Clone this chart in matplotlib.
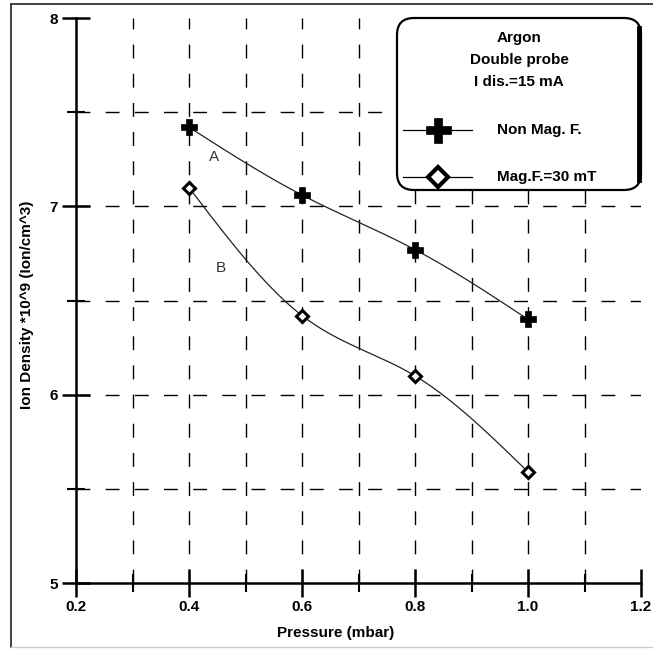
import numpy as np
import matplotlib
matplotlib.use("Agg")
import matplotlib.pyplot as plt
from matplotlib.patches import FancyBboxPatch
from matplotlib.lines import Line2D

plt.rcParams['font.family'] = ['Liberation Sans', 'DejaVu Sans']

# data
pressure = [0.4, 0.6, 0.8, 1.0]
density_nomag = [7.42, 7.06, 6.77, 6.40]    # curve A, Non Mag. F.
density_mag = [7.10, 6.42, 6.10, 5.59]      # curve B, Mag.F.=30 mT
legend_title = ["Argon", "Double probe", "I dis.=15 mA"]
series_names = ["Non Mag. F.", "Mag.F.=30 mT"]


def natural_spline(x, y, n=200):
    # natural cubic spline through the measured points (smooth connector)
    x = np.asarray(x, float)
    y = np.asarray(y, float)
    k = len(x)
    h = np.diff(x)
    A = np.zeros((k, k))
    b = np.zeros(k)
    A[0, 0] = A[-1, -1] = 1
    for i in range(1, k - 1):
        A[i, i - 1] = h[i - 1]
        A[i, i] = 2 * (h[i - 1] + h[i])
        A[i, i + 1] = h[i]
        b[i] = 6 * ((y[i + 1] - y[i]) / h[i] - (y[i] - y[i - 1]) / h[i - 1])
    m = np.linalg.solve(A, b)
    xs = np.linspace(x[0], x[-1], n)
    ys = np.empty_like(xs)
    for j, t in enumerate(xs):
        i = min(np.searchsorted(x, t, side='right') - 1, k - 2)
        a, bb = x[i], x[i + 1]
        hi = bb - a
        ys[j] = (m[i] * (bb - t) ** 3 / (6 * hi) + m[i + 1] * (t - a) ** 3 / (6 * hi)
                 + (y[i] / hi - m[i] * hi / 6) * (bb - t)
                 + (y[i + 1] / hi - m[i + 1] * hi / 6) * (t - a))
    return xs, ys


fig = plt.figure(figsize=(6.53, 6.50), dpi=100)
ax = fig.add_axes([76 / 653, 67 / 650, 565 / 653, 565 / 650])

# outer frame of the original picture
fig.add_artist(Line2D([11 / 653, 11 / 653], [3 / 650, 646 / 650], transform=fig.transFigure,
                      color='#333333', lw=1.3))
fig.add_artist(Line2D([11 / 653, 1.0], [646 / 650, 646 / 650], transform=fig.transFigure,
                      color='#333333', lw=1.3))
fig.add_artist(Line2D([11 / 653, 1.0], [3 / 650, 3 / 650], transform=fig.transFigure,
                      color='#cccccc', lw=1.0))

# dashed grid
for gx in np.arange(0.3, 1.15, 0.1):
    ax.axvline(gx, color='black', lw=1.0, ls=(0, (10, 11)), zorder=1)
for gy in np.arange(5.5, 7.75, 0.5):
    ax.axhline(gy, color='black', lw=1.0, ls=(0, (10, 11)), zorder=1)

xa, ya = natural_spline(pressure, density_nomag)
xb, yb = natural_spline(pressure, density_mag)
ax.plot(xa, ya, color='#222222', lw=0.9, zorder=3)
ax.plot(xb, yb, color='#222222', lw=0.9, zorder=3)
ax.plot(pressure, density_nomag, ls='none', marker='P', ms=11, color='black', mec='black',
        mew=0.5, zorder=4)
ax.plot(pressure, density_mag, ls='none', marker='D', ms=6.5, mfc='white', mec='black',
        mew=2.2, zorder=4)

ax.text(0.444, 7.26, "A", fontsize=11, color='#333333', ha='center', va='center', zorder=5)
ax.text(0.457, 6.67, "B", fontsize=11, color='#333333', ha='center', va='center', zorder=5)

ax.set_xlim(0.2, 1.2)
ax.set_ylim(5, 8)
ax.set_xticks([0.2, 0.4, 0.6, 0.8, 1.0, 1.2])
ax.set_xticklabels(["0.2", "0.4", "0.6", "0.8", "1.0", "1.2"])
ax.set_xticks(np.arange(0.3, 1.15, 0.2), minor=True)
ax.set_yticks([5, 6, 7, 8])
ax.set_yticks([5.5, 6.5, 7.5], minor=True)
for s in ['top', 'right']:
    ax.spines[s].set_visible(False)
for s in ['left', 'bottom']:
    ax.spines[s].set_linewidth(1.8)
ax.tick_params(which='major', direction='inout', length=20, width=1.8, labelsize=11, pad=2)
ax.tick_params(which='minor', direction='inout', length=13, width=1.5)
ax.tick_params(axis='y', which='major', pad=3)
for lab in ax.get_xticklabels() + ax.get_yticklabels():
    lab.set_fontweight('bold')

fig.text(336 / 653, 1 - 633 / 650, "Pressure (mbar)", ha='center', va='center',
         fontsize=11, fontweight='bold')
fig.text(27 / 653, 1 - 305 / 650, "Ion Density *10^9 (Ion/cm^3)", ha='center', va='center',
         rotation=90, fontsize=11, fontweight='bold')

# legend box drawn by hand to keep the rounded frame
x0, y0 = (397 - 76) / 565, (583 - 190) / 565
box = FancyBboxPatch((x0, y0), 1.0 - x0, 1.0 - y0,
                     boxstyle="round,pad=0,rounding_size=0.03",
                     transform=ax.transAxes, fc='white', ec='black', lw=1.6,
                     zorder=6, clip_on=False)
ax.add_patch(box)
ax.add_line(Line2D([0.997, 0.997], [y0 + 0.018, 0.982], transform=ax.transAxes,
                   color='black', lw=3.5, zorder=7, clip_on=False))

cx = (x0 + 1.0) / 2
for i, t in enumerate(legend_title):
    ax.text(cx, (583 - (38 + 22 * i)) / 565, t, transform=ax.transAxes, ha='center',
            va='center', fontsize=11, fontweight='bold', zorder=8)

leg_y = [(583 - 130) / 565, (583 - 177) / 565]
mk = [dict(marker='P', ms=18, color='black', mec='black', mfc='black', mew=0.5),
      dict(marker='D', ms=10, color='black', mec='black', mfc='white', mew=3)]
for yy, name, m in zip(leg_y, series_names, mk):
    ax.add_line(Line2D([(403 - 76) / 565, (472 - 76) / 565], [yy, yy], transform=ax.transAxes,
                       color='black', lw=0.9, zorder=8, clip_on=False))
    ax.add_line(Line2D([(438 - 76) / 565], [yy], transform=ax.transAxes, ls='none',
                       zorder=9, clip_on=False, **m))
    ax.text((497 - 76) / 565, yy, name, transform=ax.transAxes, ha='left', va='center',
            fontsize=11, fontweight='bold', zorder=8)

fig.savefig("out.png", dpi=100)
